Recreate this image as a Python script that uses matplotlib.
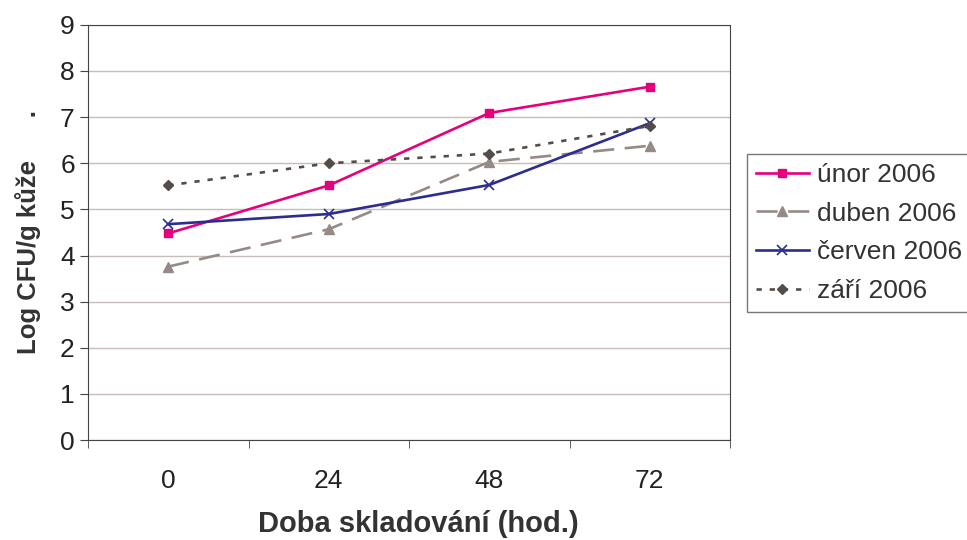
import matplotlib
matplotlib.use("Agg")
import matplotlib.pyplot as plt

plt.rcParams['font.family'] = ['Liberation Sans', 'DejaVu Sans']

hours = ["0", "24", "48", "72"]
unor = [4.48, 5.52, 7.09, 7.66]
duben = [3.76, 4.57, 6.03, 6.38]
cerven = [4.68, 4.90, 5.53, 6.87]
zari = [5.52, 6.00, 6.21, 6.81]

fig = plt.figure(figsize=(9.67, 5.4), dpi=100)
ax = fig.add_axes([0.091, 0.185, 0.664, 0.769])

x = list(range(len(hours)))
ax.plot(x, unor, color="#e6007e", lw=1.9, marker="s", ms=6, label="únor 2006")
ax.plot(x, duben, color="#968a86", lw=1.9, ls=(0, (8, 4)), marker="^", ms=7, label="duben 2006")
ax.plot(x, cerven, color="#2b2e8e", lw=1.9, marker="x", ms=7, mew=1.2, label="červen 2006")
ax.plot(x, zari, color="#544c48", lw=1.9, ls=(0, (2, 3)), marker="D", ms=5, label="září 2006")

ax.set_xlim(-0.5, 3.5)
ax.set_ylim(0, 9)
ax.set_yticks(range(10))
ax.set_xticks(x)
ax.set_xticklabels(hours)
ax.set_xticks([-0.5, 0.5, 1.5, 2.5, 3.5], minor=True)
ax.tick_params(axis="x", which="major", length=0, pad=21, labelsize=19, labelcolor="#222222")
ax.tick_params(axis="x", which="minor", length=6, color="#444444")
ax.tick_params(axis="y", length=6, labelsize=19, color="#444444", labelcolor="#222222")
ax.yaxis.grid(True, color="#c8bcbc", lw=1)
ax.set_axisbelow(True)
for s in ax.spines.values():
    s.set_color("#444444")

ax.set_xlabel("Doba skladování (hod.)", fontsize=21, fontweight="bold", color="#333333")
ax.xaxis.set_label_coords(0.514, -0.168)
ax.set_ylabel("Log CFU/g kůže      .", fontsize=18.5, fontweight="bold", labelpad=14, color="#333333")

leg = ax.legend(loc="upper left", bbox_to_anchor=(1.026, 0.689), fontsize=19, frameon=True,
                fancybox=False, edgecolor="#555555", handlelength=2.0, handletextpad=0.3,
                borderpad=0.35, labelspacing=0.55, borderaxespad=0)
leg.get_frame().set_linewidth(1)
for t in leg.get_texts():
    t.set_color("#333333")

fig.savefig("out.png", dpi=100)
